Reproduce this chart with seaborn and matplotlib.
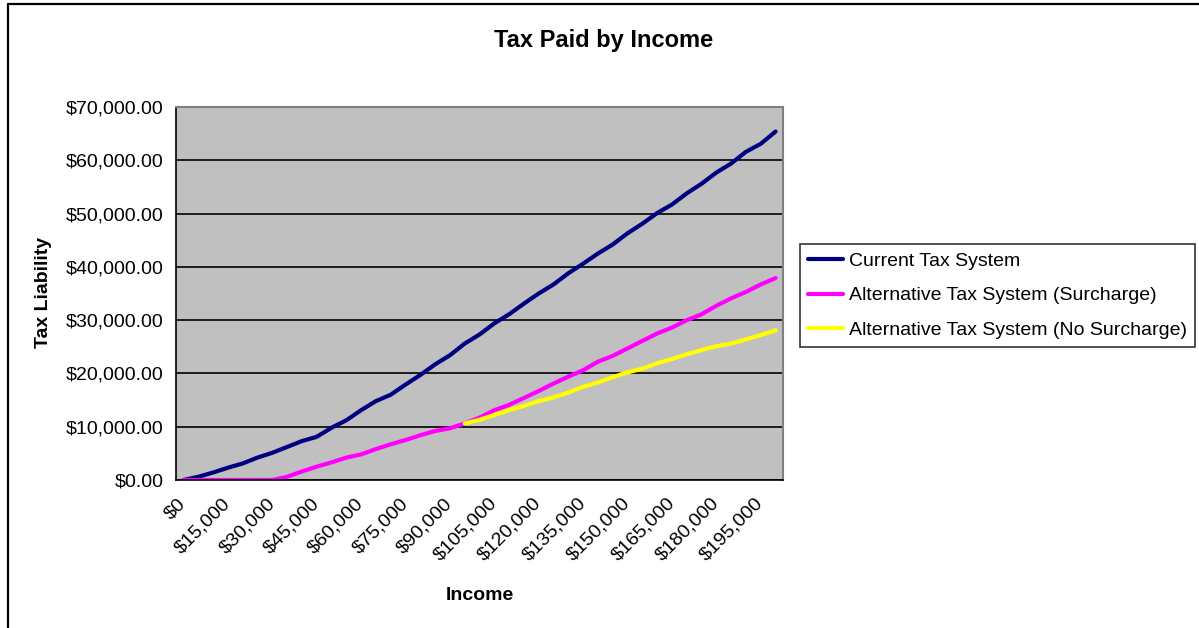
import numpy as np
import pandas as pd
import matplotlib
matplotlib.use("Agg")
import matplotlib.pyplot as plt
from matplotlib.lines import Line2D
import seaborn as sns

incomes = list(range(0, 200001, 5000))
current = [0, 600, 1400, 2300, 3100, 4200, 5100, 6200, 7300, 8100,
           9800, 11200, 13100, 14800, 16000, 17900, 19700, 21700, 23400, 25600,
           27300, 29400, 31100, 33100, 35000, 36700, 38800, 40600, 42500, 44200,
           46300, 48100, 50100, 51700, 53800, 55600, 57700, 59400, 61600, 63100,
           65400]
surcharge = [0, 0, 0, 0, 0, 0, 0, 600, 1600, 2500,
             3300, 4200, 4800, 5800, 6700, 7500, 8400, 9200, 9700, 10600,
             11700, 13100, 14100, 15400, 16700, 18100, 19400, 20600, 22200, 23300,
             24700, 26100, 27500, 28600, 30000, 31100, 32700, 34100, 35300, 36700,
             37900]
no_surcharge = [np.nan] * 19 + [10600,
                11300, 12200, 13100, 13900, 14800, 15500, 16400, 17500, 18300, 19300,
                20200, 20900, 21900, 22700, 23600, 24400, 25100, 25600, 26400, 27200,
                28100]

series_names = ["Current Tax System",
                "Alternative Tax System (Surcharge)",
                "Alternative Tax System (No Surcharge)"]
series_colors = ["#000080", "#FF00FF", "#FFFF00"]
y_ticks = list(range(0, 70001, 10000))

rows = []
for name, vals in zip(series_names, [current, surcharge, no_surcharge]):
    for i, v in enumerate(vals):
        rows.append({"idx": i, "value": v, "series": name})
df = pd.DataFrame(rows)

sns.set_theme(style="white")
plt.rcParams["font.family"] = ["Liberation Sans", "DejaVu Sans"]
plt.rcParams["text.color"] = "black"
plt.rcParams["axes.labelcolor"] = "black"
plt.rcParams["xtick.color"] = "black"
plt.rcParams["ytick.color"] = "black"

fig = plt.figure(figsize=(11.99, 6.28), dpi=100)
W, H = 1199, 628
ax = fig.add_axes([176 / W, 1 - 480 / H, (783 - 176) / W, (480 - 107) / H])
ax.set_facecolor("#C0C0C0")

sns.lineplot(data=df, x="idx", y="value", hue="series", hue_order=series_names,
             palette=dict(zip(series_names, series_colors)), linewidth=3,
             ax=ax, legend=False, sort=False, estimator=None)

n = len(incomes)
ax.set_xlim(-0.5, n - 0.5)
ax.set_ylim(0, 70000)
ax.set_yticks(y_ticks)
ax.set_yticklabels([f"${v:,.2f}" for v in y_ticks], fontsize=14, color="black")
ax.yaxis.grid(True, color="black", linewidth=1.2)
ax.xaxis.grid(False)

label_idx = list(range(0, n, 3))
ax.set_xticks(label_idx)
ax.set_xticklabels([f"${incomes[i]:,}" for i in label_idx], fontsize=14,
                   rotation=45, ha="right", va="center", rotation_mode="anchor",
                   color="black")
ax.set_xticks(np.arange(-0.5, n, 1.0), minor=True)
ax.tick_params(axis="x", which="major", length=0, pad=15)
ax.tick_params(axis="x", which="minor", length=5, width=1, color="black", direction="out")
ax.tick_params(axis="y", which="major", length=5, width=1, color="black", direction="out", pad=4)

for side in ["left", "bottom"]:
    ax.spines[side].set_color("black")
    ax.spines[side].set_linewidth(1.2)
for side in ["top", "right"]:
    ax.spines[side].set_color("#808080")
    ax.spines[side].set_linewidth(1.5)

ax.set_xlabel("")
ax.set_ylabel("")
fig.text(480 / W, 1 - 596 / H, "Income", fontsize=14, fontweight="bold",
         ha="center", va="center", color="black")
fig.text(43 / W, 1 - 292 / H, "Tax Liability", fontsize=14, fontweight="bold",
         ha="center", va="center", rotation=90, color="black")
fig.text(604 / W, 1 - 40 / H, "Tax Paid by Income", fontsize=17, fontweight="bold",
         ha="center", va="center", color="black")

handles = [Line2D([0], [0], color=c, linewidth=3) for c in series_colors]
leg = fig.legend(handles, series_names, loc="upper left",
                 bbox_to_anchor=(800 / W, 1 - 244 / H), bbox_transform=fig.transFigure,
                 fontsize=14, frameon=True, fancybox=False, edgecolor="black",
                 handlelength=1.8, handletextpad=0.3, labelspacing=0.88,
                 borderpad=0.42, borderaxespad=0)
leg.get_frame().set_linewidth(1.2)
for t in leg.get_texts():
    t.set_color("black")

fig.add_artist(Line2D([7.5 / W, 1], [1 - 4 / H, 1 - 4 / H], transform=fig.transFigure,
                      color="black", linewidth=1.6))
fig.add_artist(Line2D([7.5 / W, 7.5 / W], [0, 1 - 4 / H], transform=fig.transFigure,
                      color="black", linewidth=1.6))

fig.savefig("out.png", dpi=100, facecolor="white")
